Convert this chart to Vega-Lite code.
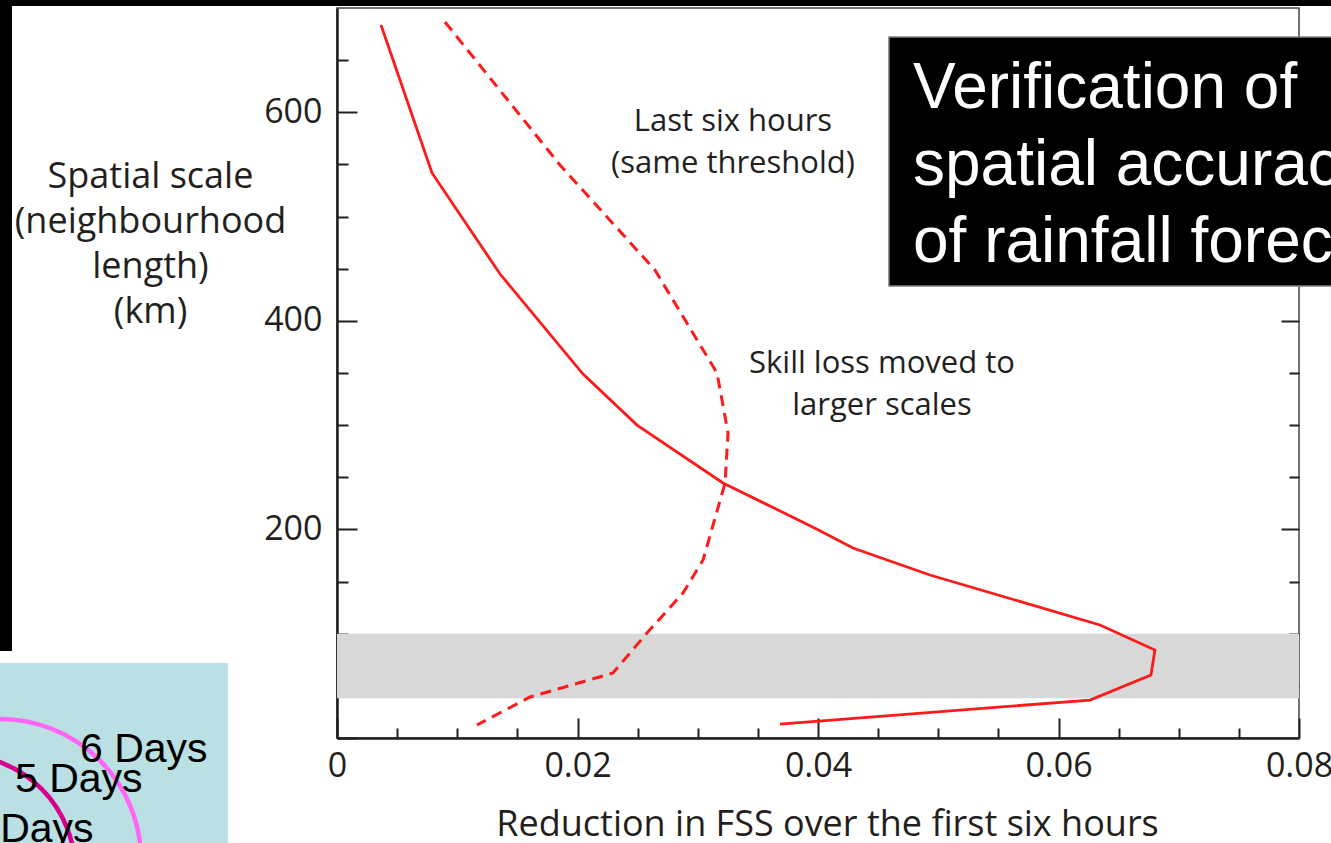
{
  "$schema": "https://vega.github.io/schema/vega-lite/v6.json",
  "width": 962,
  "height": 730,
  "autosize": {"type": "none"},
  "padding": {"left": 337, "top": 8, "right": 32, "bottom": 105},
  "background": "white",
  "config": {
    "view": {"stroke": "#444444", "strokeWidth": 1.5},
    "axis": {"grid": false, "labelFont": "Open Sans", "titleFont": "Open Sans", "labelColor": "#231f20", "titleColor": "#231f20", "tickColor": "#231f20", "domainColor": "#231f20", "titleFontWeight": "normal", "tickWidth": 2, "zindex": 1}
  },
  "datasets": {
    "band": [{"x0": 0, "x1": 0.08, "lo": 38, "hi": 100}],
    "solid": [
      {"i": 1, "x": 0.00366, "y": 683.7},
      {"i": 2, "x": 0.0079, "y": 541.8},
      {"i": 3, "x": 0.01356, "y": 444.9},
      {"i": 4, "x": 0.02046, "y": 349.0},
      {"i": 5, "x": 0.02495, "y": 300.1},
      {"i": 6, "x": 0.0321, "y": 244.5},
      {"i": 7, "x": 0.0398, "y": 201.0},
      {"i": 8, "x": 0.04291, "y": 182.2},
      {"i": 9, "x": 0.04931, "y": 156.3},
      {"i": 10, "x": 0.06345, "y": 108.4},
      {"i": 11, "x": 0.06802, "y": 84.4},
      {"i": 12, "x": 0.06769, "y": 60.4},
      {"i": 13, "x": 0.06262, "y": 36.4},
      {"i": 14, "x": 0.03684, "y": 13.4}
    ],
    "dashed": [
      {"i": 1, "x": 0.00898, "y": 686.6},
      {"i": 2, "x": 0.01854, "y": 549.5},
      {"i": 3, "x": 0.02644, "y": 448.8},
      {"i": 4, "x": 0.0316, "y": 350.0},
      {"i": 5, "x": 0.03252, "y": 292.5},
      {"i": 6, "x": 0.03227, "y": 244.5},
      {"i": 7, "x": 0.03044, "y": 170.7},
      {"i": 8, "x": 0.02877, "y": 139.0},
      {"i": 9, "x": 0.02578, "y": 100.7},
      {"i": 10, "x": 0.02295, "y": 62.3},
      {"i": 11, "x": 0.01605, "y": 39.3},
      {"i": 12, "x": 0.01164, "y": 12.5}
    ],
    "blackbars": [
      {"x": -0.0281, "x2": -0.02703, "y": 83.4, "y2": 708},
      {"x": -0.0281, "x2": 0.0827, "y": 701.9, "y2": 708}
    ],
    "bluebox": [{"x": -0.0281, "x2": -0.00906, "y": -101, "y2": 71.9}],
    "titlebox": [{"x": 0.0459, "x2": 0.0834, "y": 433.4, "y2": 672.2}],
    "ring6": [{"x": -0.028025, "y": -117.0}],
    "ring5": [{"x": -0.031351, "y": -126.6}],
    "notes": [
      {"x": 0.03293, "y": 582.1, "t": "Last six hours\n(same threshold)"},
      {"x": 0.04532, "y": 350.0, "t": "Skill loss moved to\nlarger scales"}
    ],
    "title": [{"x": 0.0479, "y": 604.1, "t": "Verification of\nspatial accuracy\nof rainfall forecasts"}],
    "days": [
      {"x": -0.021372, "y": -23.0, "t": "6 Days"},
      {"x": -0.026778, "y": -51.8, "t": "5 Days"},
      {"x": -0.030852, "y": -99.7, "t": "4 Days"}
    ]
  },
  "resolve": {"axis": {"x": "independent", "y": "independent"}},
  "layer": [
    {
      "data": {"name": "band"},
      "mark": {"type": "rect", "color": "#d8d8d8", "clip": false},
      "encoding": {
        "x": {
          "field": "x0", "type": "quantitative",
          "scale": {"domain": [0, 0.08], "nice": false, "zero": false},
          "axis": {
            "orient": "bottom",
            "values": [0, 0.02, 0.04, 0.06, 0.08],
            "tickSize": -20,
            "domainWidth": 2.5,
            "labelExpr": "datum.value == 0 ? '0' : format(datum.value, '.2f')",
            "labelFontSize": 34,
            "labelPadding": 31,
            "labelFlush": false,
            "labelOverlap": false,
            "title": "Reduction in FSS over the first six hours",
            "titleFontSize": 36,
            "titleX": 490,
            "titleY": 97,
            "titleAlign": "center",
            "titleBaseline": "alphabetic"
          }
        },
        "x2": {"field": "x1"},
        "y": {
          "field": "lo", "type": "quantitative",
          "scale": {"domain": [0, 700], "nice": false, "zero": false},
          "axis": {
            "orient": "left",
            "values": [0, 200, 400, 600],
            "tickSize": -20,
            "domainWidth": 2.5,
            "labelExpr": "datum.value > 0 ? datum.label : ''",
            "labelFontSize": 34,
            "labelPadding": 35,
            "labelOverlap": false,
            "labelFlush": false,
            "title": ["Spatial scale", "(neighbourhood", "length)", "(km)"],
            "titleFontSize": 36,
            "titleAngle": 0,
            "titleX": -187,
            "titleY": 179,
            "titleAlign": "center",
            "titleBaseline": "alphabetic",
            "titleLineHeight": 45
          }
        },
        "y2": {"field": "hi"}
      }
    },
    {
      "data": {"name": "solid"},
      "mark": {"type": "line", "color": "#ff1a1a", "strokeWidth": 2.8},
      "encoding": {
        "x": {
          "field": "x", "type": "quantitative",
          "scale": {"domain": [0, 0.08], "nice": false, "zero": false},
          "axis": {
            "orient": "bottom",
            "values": [0.005, 0.01, 0.015, 0.025, 0.03, 0.035, 0.045, 0.05, 0.055, 0.065, 0.07, 0.075],
            "tickSize": -10,
            "domain": false,
            "labels": false,
            "title": null
          }
        },
        "y": {
          "field": "y", "type": "quantitative",
          "scale": {"domain": [0, 700], "nice": false, "zero": false},
          "axis": {
            "orient": "right",
            "values": [200, 400],
            "tickSize": -18,
            "domain": false,
            "labels": false,
            "title": null
          }
        },
        "order": {"field": "i", "type": "quantitative"}
      }
    },
    {
      "data": {"name": "dashed"},
      "mark": {"type": "line", "color": "#ff1a1a", "strokeWidth": 3, "strokeDash": [11, 7]},
      "encoding": {
        "x": {"field": "x", "type": "quantitative", "scale": {"domain": [0, 0.08], "nice": false, "zero": false}, "axis": null},
        "y": {
          "field": "y", "type": "quantitative",
          "scale": {"domain": [0, 700], "nice": false, "zero": false},
          "axis": {
            "orient": "left",
            "values": [50, 100, 150, 250, 300, 350, 450, 500, 550, 650],
            "tickSize": -11,
            "domain": false,
            "labels": false,
            "title": null
          }
        },
        "order": {"field": "i", "type": "quantitative"}
      }
    },
    {
      "data": {"name": "blackbars"},
      "mark": {"type": "rect", "color": "#000000", "clip": false},
      "encoding": {
        "x": {"field": "x", "type": "quantitative", "axis": null},
        "x2": {"field": "x2"},
        "y": {
          "field": "y", "type": "quantitative",
          "axis": {
            "orient": "right",
            "values": [50, 100, 150, 250, 300, 350],
            "tickSize": -10,
            "domain": false,
            "labels": false,
            "title": null
          }
        },
        "y2": {"field": "y2"}
      }
    },
    {
      "data": {"name": "bluebox"},
      "mark": {"type": "rect", "color": "#bbe0e3", "clip": false},
      "encoding": {
        "x": {"field": "x", "type": "quantitative", "axis": null},
        "x2": {"field": "x2"},
        "y": {"field": "y", "type": "quantitative", "axis": null},
        "y2": {"field": "y2"}
      }
    },
    {
      "data": {"name": "titlebox"},
      "mark": {"type": "rect", "fill": "#000000", "stroke": "#808080", "strokeWidth": 1.5, "clip": false},
      "encoding": {
        "x": {"field": "x", "type": "quantitative", "axis": null},
        "x2": {"field": "x2"},
        "y": {"field": "y", "type": "quantitative", "axis": null},
        "y2": {"field": "y2"}
      }
    },
    {
      "data": {"name": "ring6"},
      "mark": {"type": "point", "shape": "circle", "filled": false, "stroke": "#ff66f4", "strokeWidth": 4.5, "opacity": 1, "size": 79524, "clip": false},
      "encoding": {
        "x": {"field": "x", "type": "quantitative", "axis": null},
        "y": {"field": "y", "type": "quantitative", "axis": null}
      }
    },
    {
      "data": {"name": "ring5"},
      "mark": {"type": "point", "shape": "circle", "filled": false, "stroke": "#d6008c", "strokeWidth": 4.5, "opacity": 1, "size": 52900, "clip": false},
      "encoding": {
        "x": {"field": "x", "type": "quantitative", "axis": null},
        "y": {"field": "y", "type": "quantitative", "axis": null}
      }
    },
    {
      "data": {"name": "notes"},
      "mark": {"type": "text", "font": "Open Sans", "fontSize": 31, "color": "#231f20", "align": "center", "baseline": "alphabetic", "lineBreak": "\n", "lineHeight": 42},
      "encoding": {
        "x": {"field": "x", "type": "quantitative", "axis": null},
        "y": {"field": "y", "type": "quantitative", "axis": null},
        "text": {"field": "t"}
      }
    },
    {
      "data": {"name": "title"},
      "mark": {"type": "text", "font": "Liberation Sans", "fontSize": 64, "color": "#ffffff", "align": "left", "baseline": "alphabetic", "lineBreak": "\n", "lineHeight": 77, "clip": false},
      "encoding": {
        "x": {"field": "x", "type": "quantitative", "axis": null},
        "y": {"field": "y", "type": "quantitative", "axis": null},
        "text": {"field": "t"}
      }
    },
    {
      "data": {"name": "days"},
      "mark": {"type": "text", "font": "Liberation Sans", "fontSize": 41, "color": "#000000", "align": "left", "baseline": "alphabetic", "clip": false},
      "encoding": {
        "x": {"field": "x", "type": "quantitative", "axis": null},
        "y": {"field": "y", "type": "quantitative", "axis": null},
        "text": {"field": "t"}
      }
    }
  ]
}
